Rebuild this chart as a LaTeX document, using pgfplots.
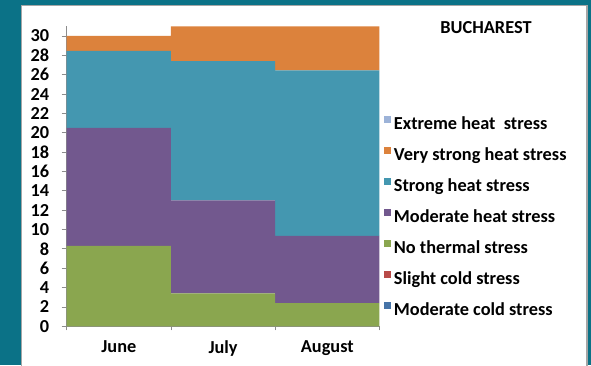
\documentclass[border=0pt]{standalone}
\usepackage{pgfplots}
\usepackage{pgfplotstable}
\pgfplotsset{compat=1.18}
\usepackage{fontspec}
\setmainfont{Carlito}

\definecolor{frame}{HTML}{0B7287}
\definecolor{panelline}{HTML}{A6A6A6}
\definecolor{axisgray}{HTML}{8C8C8C}
\definecolor{cextreme}{HTML}{9DB3D8}
\definecolor{cverystrong}{HTML}{DC823C}
\definecolor{cstrong}{HTML}{4497B0}
\definecolor{cmodheat}{HTML}{72588E}
\definecolor{cnothermal}{HTML}{8AA64F}
\definecolor{cslightcold}{HTML}{B84A48}
\definecolor{cmodcold}{HTML}{4674A8}

% Days per month in each thermal stress class
\pgfplotstableread{
x modcold slightcold nothermal modheat strong verystrong extreme
0 0 0 8.3 12.2 7.95 1.55 0
1 0 0 3.4 9.6 14.4 3.6 0
2 0 0 2.4 6.95 17.1 4.55 0
}\stressdata

\newcommand{\chartfont}{\bfseries\fontsize{18.3}{20}\selectfont}

\begin{document}
\begin{tikzpicture}[x=1pt,y=1pt]
\useasboundingbox (0,0) rectangle (591,365);
\clip (0,0) rectangle (591,365);
\fill[frame] (0,0) rectangle (591,365);
\filldraw[fill=white,draw=panelline,line width=1.5pt] (21.5,-10) rectangle (587,359.5);

\begin{axis}[
  at={(64,40)}, anchor=south west,
  scale only axis, width=312.7pt, height=300pt,
  ybar stacked, bar width=1,
  xmin=-0.5, xmax=2.5, ymin=0, ymax=31,
  axis x line*=bottom, axis y line*=left,
  axis line style={axisgray, line width=0.8pt},
  xtick=data, xticklabels={June,July,August},
  major x tick style={draw=none},
  minor xtick={-0.5,0.5,1.5,2.5},
  minor x tick style={axisgray, line width=0.8pt},
  minor tick length=4pt,
  ytick={0,2,...,30},
  y tick style={axisgray, line width=0.8pt},
  major tick length=5pt,
  tick align=outside,
  /pgf/number format/assume math mode=true,
  tick label style={font=\chartfont, text=black},
  xticklabel style={yshift=-6pt},
  yticklabel style={xshift=-9pt},
  legend cell align=left,
  reverse legend,
  legend image code/.code={\path[#1] (0pt,2.5pt) rectangle (7pt,9.5pt); \path (9pt,6pt);},
  legend style={
    at={(1.0138,0.702)}, anchor=north west,
    draw=none, fill=none, font=\chartfont,
    row sep=12pt, inner sep=0pt,
    nodes={inner sep=1pt, text height=13pt, text depth=4pt},
  },
]
\addplot[fill=cmodcold, draw=none] table[x=x, y=modcold] {\stressdata};
\addlegendentry{Moderate cold stress}
\addplot[fill=cslightcold, draw=none] table[x=x, y=slightcold] {\stressdata};
\addlegendentry{Slight cold stress}
\addplot[fill=cnothermal, draw=none] table[x=x, y=nothermal] {\stressdata};
\addlegendentry{No thermal stress}
\addplot[fill=cmodheat, draw=none] table[x=x, y=modheat] {\stressdata};
\addlegendentry{Moderate heat stress}
\addplot[fill=cstrong, draw=none] table[x=x, y=strong] {\stressdata};
\addlegendentry{Strong heat stress}
\addplot[fill=cverystrong, draw=none] table[x=x, y=verystrong] {\stressdata};
\addlegendentry{Very strong heat stress}
\addplot[fill=cextreme, draw=none] table[x=x, y=extreme] {\stressdata};
\addlegendentry{Extreme heat\ \ stress}
\end{axis}

\node[anchor=base, font=\chartfont] at (486,331.7) {BUCHAREST};
\end{tikzpicture}
\end{document}
